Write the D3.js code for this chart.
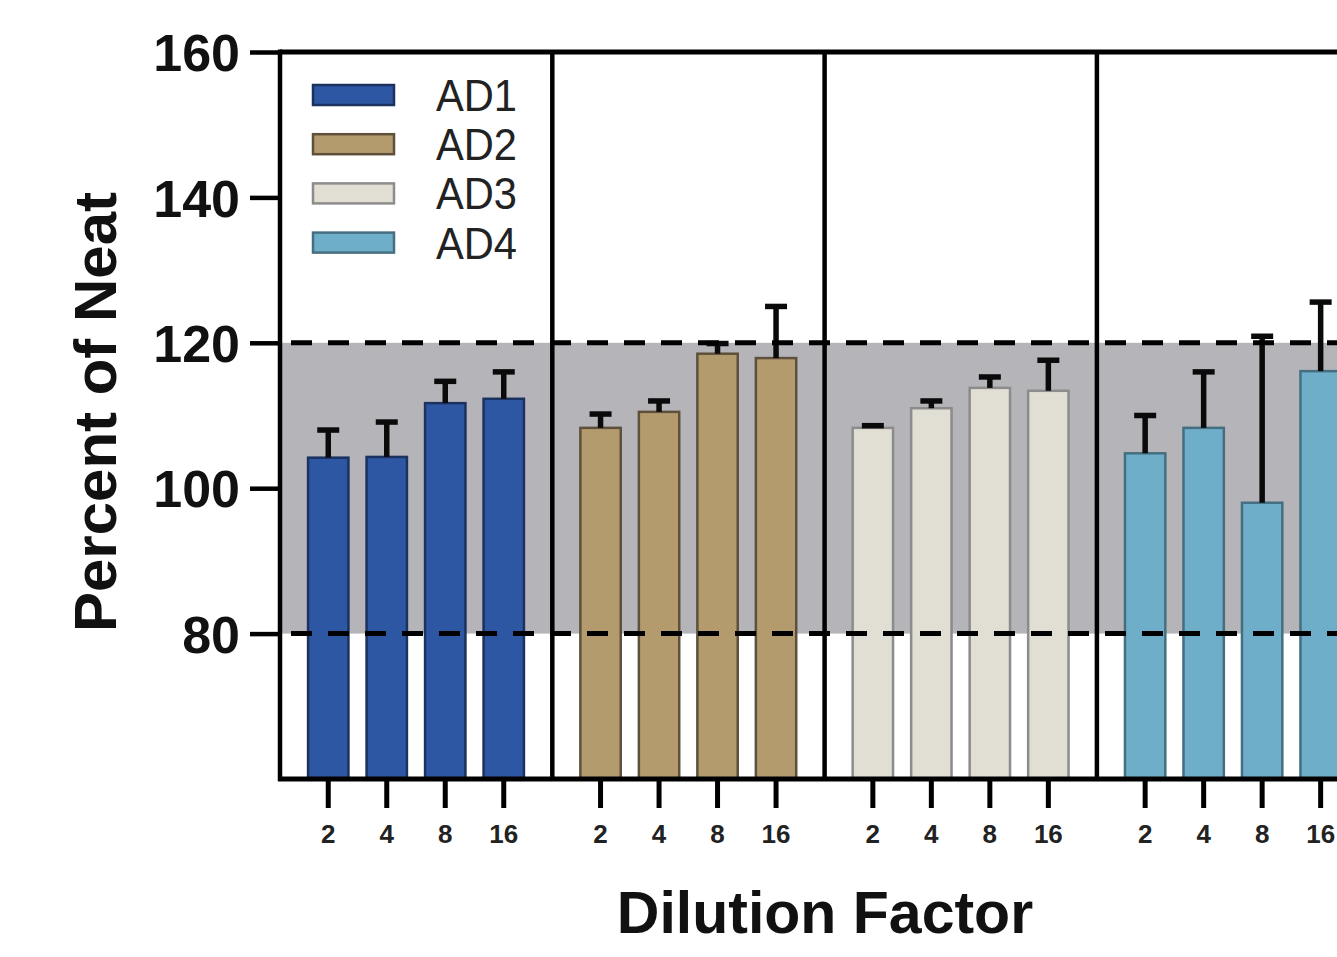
<!DOCTYPE html>
<html>
<head>
<meta charset="utf-8">
<script src="https://cdn.jsdelivr.net/npm/d3@7"></script>
<style>
  html, body { margin: 0; padding: 0; background: #fff; overflow: hidden; }
  svg { display: block; }
  text { font-family: "Liberation Sans", Arial, sans-serif; }
</style>
</head>
<body>
<svg id="chart" width="1337" height="957"></svg>
<script>
// ---- data ----
const groups = ["AD1", "AD2", "AD3", "AD4"];
const dilutions = ["2", "4", "8", "16"];
const meanAD1 = [104.2, 104.3, 111.7, 112.3];
const meanAD2 = [108.3, 110.5, 118.5, 117.9];
const meanAD3 = [108.3, 111.0, 113.8, 113.4];
const meanAD4 = [104.8, 108.3, 98.0, 116.1];
const errAD1 = [3.8, 4.8, 3.0, 3.7];
const errAD2 = [1.9, 1.5, 1.4, 7.1];
const errAD3 = [0.3, 1.0, 1.5, 4.2];
const errAD4 = [5.2, 7.7, 22.9, 9.5];
const yTicks = [80, 100, 120, 140, 160];
const bandLow = 80, bandHigh = 120;
const fills = ["#2e57a3", "#b49b6e", "#e1ded4", "#6eaec8"];
const strokes = ["#1b3261", "#5e503a", "#8c8c8c", "#456f80"];

const means = [meanAD1, meanAD2, meanAD3, meanAD4];
const errs = [errAD1, errAD2, errAD3, errAD4];
const rows = [];
groups.forEach((g, gi) => dilutions.forEach((d, di) => {
  rows.push({group: g, gi, dil: d, mean: means[gi][di], err: errs[gi][di]});
}));

// ---- layout ----
const svg = d3.select("#chart");
const x0 = 280, panelW = 272.3;
const y = d3.scaleLinear().domain([60, 160]).range([779, 52]);
const xg = d3.scaleBand().domain(groups).range([x0, x0 + panelW * 4]).padding(0);
const xi = d3.scaleBand().domain(dilutions).range([19, 253]).paddingInner(0.31).paddingOuter(0.155);
const xEnd = x0 + panelW * 4;

// gray acceptance band
svg.append("rect")
  .attr("x", x0).attr("width", xEnd - x0)
  .attr("y", y(bandHigh)).attr("height", y(bandLow) - y(bandHigh))
  .attr("fill", "#b5b4b9");

// bars
svg.append("g").selectAll("rect").data(rows).join("rect")
  .attr("x", d => xg(d.group) + xi(d.dil))
  .attr("width", xi.bandwidth())
  .attr("y", d => y(d.mean))
  .attr("height", d => y(60) - y(d.mean))
  .attr("fill", d => fills[d.gi])
  .attr("stroke", d => strokes[d.gi])
  .attr("stroke-width", 2.5);

// error bars (upper only)
const eb = svg.append("g");
eb.selectAll("line.stem").data(rows).join("line")
  .attr("class", "stem")
  .attr("x1", d => xg(d.group) + xi(d.dil) + xi.bandwidth() / 2)
  .attr("x2", d => xg(d.group) + xi(d.dil) + xi.bandwidth() / 2)
  .attr("y1", d => y(d.mean))
  .attr("y2", d => y(d.mean + d.err))
  .attr("stroke", "#0a0a0a").attr("stroke-width", 5.5);
eb.selectAll("line.cap").data(rows).join("line")
  .attr("class", "cap")
  .attr("x1", d => xg(d.group) + xi(d.dil) + xi.bandwidth() / 2 - 11)
  .attr("x2", d => xg(d.group) + xi(d.dil) + xi.bandwidth() / 2 + 11)
  .attr("y1", d => y(d.mean + d.err))
  .attr("y2", d => y(d.mean + d.err))
  .attr("stroke", "#0a0a0a").attr("stroke-width", 5.5);

// dashed band limits
svg.append("g").selectAll("line").data([bandLow, bandHigh]).join("line")
  .attr("x1", x0 + 3).attr("x2", xEnd)
  .attr("y1", d => y(d)).attr("y2", d => y(d))
  .attr("stroke", "#000").attr("stroke-width", 5)
  .attr("stroke-dasharray", "21,16").attr("stroke-dashoffset", -8);

// panel dividers
svg.append("g").selectAll("line").data(groups).join("line")
  .attr("x1", d => xg(d) + xg.bandwidth()).attr("x2", d => xg(d) + xg.bandwidth())
  .attr("y1", y(160)).attr("y2", y(60))
  .attr("stroke", "#000").attr("stroke-width", 4.5);

// top frame line
svg.append("line")
  .attr("x1", x0).attr("x2", xEnd).attr("y1", y(160)).attr("y2", y(160))
  .attr("stroke", "#000").attr("stroke-width", 5);

// y axis
const yAxis = d3.axisLeft(y).tickValues(yTicks).tickSize(30).tickPadding(10).tickFormat(d3.format("d"));
const ya = svg.append("g").attr("transform", `translate(${x0},0)`).call(yAxis);
ya.select(".domain").attr("stroke", "#000").attr("stroke-width", 4.5)
  .attr("d", `M0,${y(160) - 2.5}V${y(60) + 2}`);
ya.selectAll(".tick line").attr("stroke", "#000").attr("stroke-width", 4.5);
ya.selectAll(".tick text")
  .attr("fill", "#111").attr("font-size", 52).attr("font-weight", "bold")
  .attr("font-family", "'Liberation Sans', Arial, sans-serif")
  .attr("dy", "0.36em");

// x axis (bottom line)
svg.append("line")
  .attr("x1", x0 - 2).attr("x2", xEnd).attr("y1", y(60)).attr("y2", y(60))
  .attr("stroke", "#000").attr("stroke-width", 5);

// x ticks per group
groups.forEach(g => {
  const ax = d3.axisBottom(xi).tickSize(27).tickPadding(17);
  const gx = svg.append("g").attr("transform", `translate(${xg(g)},${y(60) + 2})`).call(ax);
  gx.select(".domain").remove();
  gx.selectAll(".tick line").attr("stroke", "#000").attr("stroke-width", 5);
  gx.selectAll(".tick text")
    .attr("fill", "#222").attr("font-size", 26).attr("font-weight", "bold")
    .attr("font-family", "'Liberation Sans', Arial, sans-serif");
});

// axis titles
svg.append("text")
  .attr("transform", `translate(116,${412}) rotate(-90)`)
  .attr("text-anchor", "middle")
  .attr("font-size", 60).attr("font-weight", "bold").attr("fill", "#111")
  .text("Percent of Neat");
svg.append("text")
  .attr("x", 825).attr("y", 933)
  .attr("text-anchor", "middle")
  .attr("font-size", 59).attr("font-weight", "bold").attr("fill", "#111")
  .text("Dilution Factor");

// legend
const lg = svg.append("g").attr("transform", "translate(313,95)");
const li = lg.selectAll("g").data(groups).join("g")
  .attr("transform", (d, i) => `translate(0,${i * 49.2})`);
li.append("rect")
  .attr("x", 0).attr("y", -10).attr("width", 81).attr("height", 20)
  .attr("fill", (d, i) => fills[i]).attr("stroke", (d, i) => strokes[i]).attr("stroke-width", 2.5);
li.append("text")
  .attr("x", 123).attr("y", 16)
  .attr("font-size", 44).attr("fill", "#222")
  .attr("textLength", 81).attr("lengthAdjust", "spacingAndGlyphs")
  .text(d => d);
</script>
</body>
</html>
